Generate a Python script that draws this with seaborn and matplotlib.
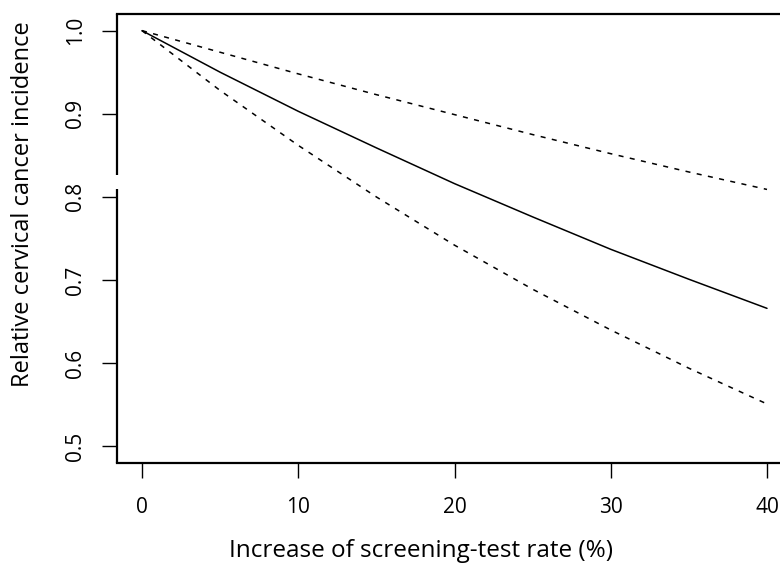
import matplotlib
matplotlib.use("Agg")
import matplotlib.pyplot as plt
import pandas as pd
import seaborn as sns

# Values
rate_increase = [0, 5, 10, 15, 20, 25, 30, 35, 40]
incidence_est = [1.0, 0.950, 0.903, 0.859, 0.816, 0.776, 0.737, 0.701, 0.666]
incidence_upper = [1.0, 0.974, 0.948, 0.923, 0.899, 0.875, 0.852, 0.830, 0.809]
incidence_lower = [1.0, 0.928, 0.862, 0.800, 0.742, 0.689, 0.640, 0.594, 0.551]

x_ticks = [0, 10, 20, 30, 40]
y_ticks = [0.5, 0.6, 0.7, 0.8, 0.9, 1.0]

df = pd.DataFrame({
    "rate": rate_increase,
    "est": incidence_est,
    "upper": incidence_upper,
    "lower": incidence_lower,
})

sns.set_theme(style="ticks")
plt.rcParams["font.family"] = ["Open Sans", "DejaVu Sans"]
plt.rcParams["text.color"] = "black"

fig = plt.figure(figsize=(7.8, 5.64), dpi=100)
ax = fig.add_axes([117 / 780, 1 - 463 / 564, (792 - 117) / 780, (463 - 14) / 564])

sns.lineplot(data=df, x="rate", y="est", ax=ax, color="black", lw=1.1)
sns.lineplot(data=df, x="rate", y="upper", ax=ax, color="black", lw=1.1,
             linestyle=(0, (3.3, 4.2)))
sns.lineplot(data=df, x="rate", y="lower", ax=ax, color="black", lw=1.1,
             linestyle=(0, (3.3, 4.2)))

ax.set_xlim(-1.6, 41.6)
ax.set_ylim(0.48, 1.02)
ax.set_xticks(x_ticks)
ax.set_yticks(y_ticks)
ax.set_xticklabels([str(t) for t in x_ticks])
ax.set_yticklabels([f"{t:.1f}" for t in y_ticks])
ax.tick_params(axis="both", direction="out", length=10.5, width=1.0,
               color="black", labelcolor="black", labelsize=15)
ax.tick_params(axis="x", pad=14)
ax.tick_params(axis="y", pad=12)
for lab in ax.get_yticklabels():
    lab.set_rotation(90)
    lab.set_va("center")

for side in ["top", "bottom"]:
    ax.spines[side].set_linewidth(1.6)
    ax.spines[side].set_color("black")
ax.spines["right"].set_visible(False)
ax.spines["left"].set_visible(False)

# left axis line with a break between 0.809 and 0.826
ytr = ax.get_yaxis_transform()
ax.plot([0, 0], [0.48, 0.809], transform=ytr, color="black", lw=1.6,
        clip_on=False, solid_capstyle="butt")
ax.plot([0, 0], [0.826, 1.02], transform=ytr, color="black", lw=1.6,
        clip_on=False, solid_capstyle="butt")

ax.set_xlabel("")
ax.set_ylabel("")
fig.text(421 / 780, 1 - 551 / 564, "Increase of screening-test rate (%)",
         ha="center", va="center", fontsize=17.5, color="black")
fig.text(23 / 780, 1 - 204 / 564, "Relative cervical cancer incidence",
         ha="center", va="center", rotation=90, fontsize=17, color="black")

fig.savefig("out.png", dpi=100, facecolor="white")
